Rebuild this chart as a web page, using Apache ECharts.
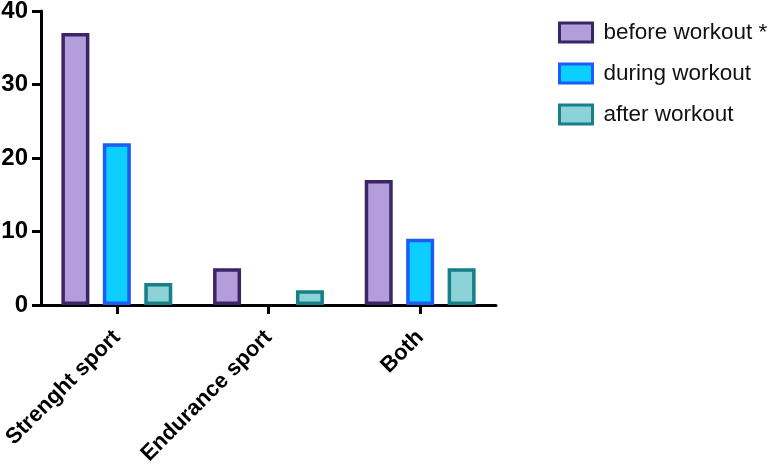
<!DOCTYPE html>
<html><head><meta charset="utf-8">
<script src="https://cdn.jsdelivr.net/npm/echarts@6/dist/echarts.min.js"></script>
<style>html,body{margin:0;padding:0;background:#fff}#c{width:779px;height:464px}</style>
</head><body><div id="c"></div>
<script>
const categories = ['Strenght sport', 'Endurance sport', 'Both'];
const seriesNames = ['before workout *', 'during workout', 'after workout'];
const beforeWorkout = [37, 5, 17];
const duringWorkout = [22, 0, 9];
const afterWorkout = [3, 2, 5];
const yTicks = [0, 10, 20, 30, 40];

const fills = ['#b39ddb', '#0dcfff', '#8dd2d8'];
const borders = ['#3a2566', '#1a5cf5', '#167f88'];
const values = [beforeWorkout, duringWorkout, afterWorkout];

const chart = echarts.init(document.getElementById('c'));
chart.setOption({
  animation: false,
  grid: { left: 41, top: 11, width: 455, bottom: 159, containLabel: false, outerBoundsMode: 'none' },
  legend: {
    orient: 'vertical', left: 553, top: 16,
    icon: 'rect',
    itemWidth: 33, itemHeight: 19, itemGap: 18,
    textStyle: { fontFamily: 'Liberation Sans', fontSize: 22.5, color: '#111', padding: [0,0,0,6] },
    data: seriesNames.map((n, i) => ({ name: n, itemStyle: { color: fills[i], borderColor: borders[i], borderWidth: 3 } }))
  },
  xAxis: {
    type: 'category', data: categories,
    axisLine: { lineStyle: { color: '#000', width: 3 } },
    axisTick: { show: true, alignWithLabel: true, length: 9, lineStyle: { color: '#000', width: 3 } },
    axisLabel: { rotate: 45, margin: 29, color: '#000', fontFamily: 'Liberation Sans', fontWeight: 'bold', fontSize: 22 }
  },
  yAxis: {
    type: 'value', min: yTicks[0], max: yTicks[yTicks.length-1], interval: 10,
    splitLine: { show: false },
    axisLine: { show: true, lineStyle: { color: '#000', width: 3 } },
    axisTick: { show: true, length: 9, lineStyle: { color: '#000', width: 3 } },
    axisLabel: { margin: 13, color: '#000', fontFamily: 'Liberation Sans', fontWeight: 'bold', fontSize: 24 }
  },
  series: seriesNames.map((n, i) => ({
    name: n, type: 'bar', z: 1,
    data: values[i].map(v => v === 0 ? { value: v, itemStyle: { borderWidth: 0 } } : v),
    barWidth: 28, barGap: '48%',
    itemStyle: { color: fills[i], borderColor: borders[i], borderWidth: 3.5 }
  }))
});
</script></body></html>
